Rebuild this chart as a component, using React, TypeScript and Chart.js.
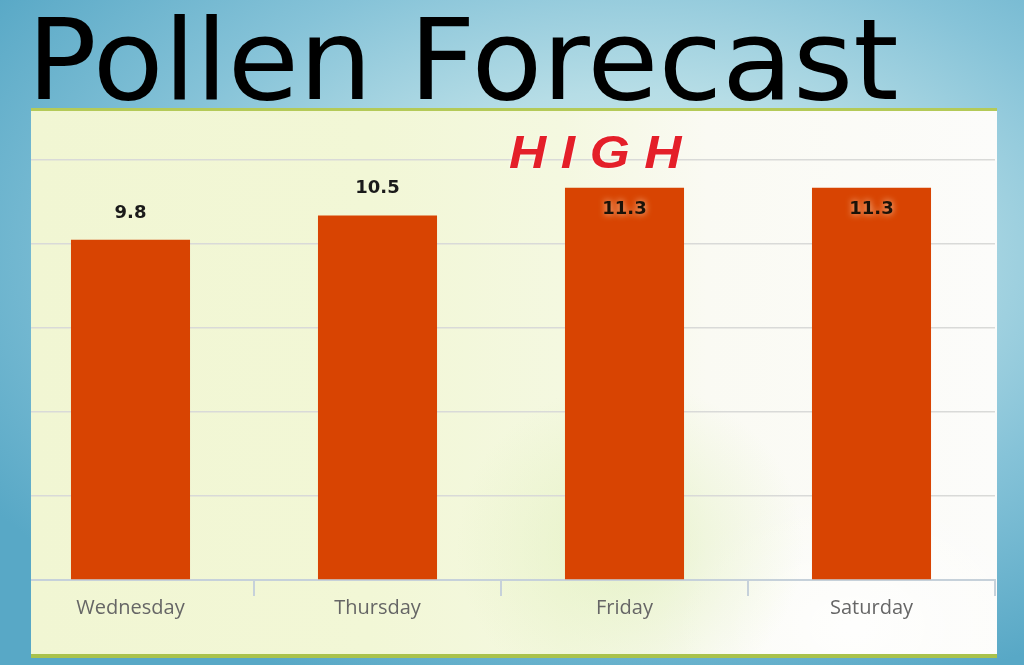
import React, { useEffect, useRef } from "react";
import { Chart, registerables } from "chart.js";

Chart.register(...registerables);

const days = ["Wednesday", "Thursday", "Friday", "Saturday"];
const pollen = [9.8, 10.5, 11.3, 11.3];
const chartTitle = "Pollen Forecast";
const levelText = "HIGH";
const yMin = 0;
const yMax = 12.1;
const gridCount = 6;

const valueLabels = {
  id: "valueLabels",
  afterDatasetsDraw(chart: any) {
    const ctx = chart.ctx;
    const meta = chart.getDatasetMeta(0);
    const area = chart.chartArea;
    ctx.save();
    ctx.font = "bold 18px 'DejaVu Sans'";
    ctx.textAlign = "center";
    ctx.textBaseline = "middle";
    meta.data.forEach((bar: any, i: number) => {
      const v = chart.data.datasets[0].data[i];
      const txt = String(v);
      if (bar.y - 40 < area.top) {
        ctx.save();
        ctx.shadowColor = "rgba(255,225,190,0.95)";
        ctx.shadowBlur = 7;
        ctx.fillStyle = "#1a1208";
        ctx.fillText(txt, bar.x, bar.y + 22);
        ctx.restore();
      } else {
        ctx.fillStyle = "#1a1a1a";
        ctx.fillText(txt, bar.x, bar.y - 27);
      }
    });
    ctx.restore();
  },
};

export default function App() {
  const ref = useRef<HTMLCanvasElement | null>(null);

  useEffect(() => {
    if (!ref.current) return;
    const chart = new Chart(ref.current, {
      type: "bar",
      data: {
        labels: days,
        datasets: [
          {
            data: pollen,
            backgroundColor: "#d84402",
            borderWidth: 0,
            barPercentage: 0.482,
            categoryPercentage: 1,
          },
        ],
      },
      options: {
        responsive: false,
        animation: false,
        devicePixelRatio: 1,
        layout: { padding: { top: 48, left: 0, right: 12, bottom: 0 } },
        plugins: {
          legend: { display: false },
          tooltip: { enabled: false },
          title: { display: false },
        },
        scales: {
          x: {
            offset: true,
            grid: {
              display: true,
              drawOnChartArea: false,
              drawTicks: true,
              tickLength: 16,
              color: "#c6d1da",
              lineWidth: 2,
              offset: true,
            },
            border: { display: true, color: "#c6d1da", width: 2 },
            ticks: {
              padding: 0,
              color: "#666666",
              font: { family: "'Open Sans'", size: 20 },
              maxRotation: 0,
            },
            afterFit(scale: any) {
              scale.height = 75;
            },
          },
          y: {
            min: yMin,
            max: yMax,
            ticks: { display: false, count: gridCount },
            grid: { color: "#d9dad8", lineWidth: 1.5, drawTicks: false },
            border: { display: false },
            afterFit(scale: any) {
              scale.width = 0;
            },
          },
        },
      },
      plugins: [valueLabels],
    });
    return () => chart.destroy();
  }, []);

  return (
    <div
      style={{
        position: "absolute",
        left: 0,
        top: 0,
        width: 1024,
        height: 665,
        overflow: "hidden",
        background:
          "radial-gradient(ellipse 75% 70% at 62% 38%, #d9efef 0%, #b6dde6 35%, #86c3d8 65%, #58a8c6 100%)",
      }}
    >
      <div
        style={{
          position: "absolute",
          left: 31,
          top: 108,
          width: 966,
          height: 543,
          borderTop: "3px solid #b4ca58",
          borderBottom: "4px solid #a9c24c",
          background:
            "radial-gradient(ellipse 18% 30% at 62% 80%, rgba(220,238,180,0.6) 0%, rgba(220,238,180,0) 100%), radial-gradient(ellipse 20% 25% at 85% 95%, rgba(255,255,255,0.8) 0%, rgba(255,255,255,0) 100%), linear-gradient(to right, #f1f6d3 0%, #f2f7d6 35%, #f4f8e0 55%, #fafaf3 70%, #fcfcfa 100%)",
        }}
      >
        <div
          style={{
            position: "absolute",
            left: 0,
            top: 0,
            width: 966,
            height: 543,
            overflow: "hidden",
          }}
        >
          <canvas
            ref={ref}
            width={1000}
            height={543}
            style={{ position: "absolute", left: -24, top: 1, width: 1000, height: 543 }}
          />
        </div>
      </div>
      <div
        style={{
          position: "absolute",
          left: 27,
          top: 4,
          fontFamily: "'DejaVu Sans'",
          fontSize: 113,
          lineHeight: 1,
          color: "#000",
          whiteSpace: "nowrap",
          transform: "scaleX(1.024)",
          transformOrigin: "left top",
        }}
      >
        {chartTitle}
      </div>
      <div
        style={{
          position: "absolute",
          left: 509,
          top: 129,
          fontFamily: "'Liberation Sans'",
          fontWeight: "bold",
          fontStyle: "italic",
          fontSize: 46,
          lineHeight: 1,
          letterSpacing: 13,
          color: "#e41f29",
          whiteSpace: "nowrap",
          transform: "scaleX(1.12)",
          transformOrigin: "left top",
          textShadow: "0 0 3px rgba(255,255,255,0.9)",
        }}
      >
        {levelText}
      </div>
    </div>
  );
}
